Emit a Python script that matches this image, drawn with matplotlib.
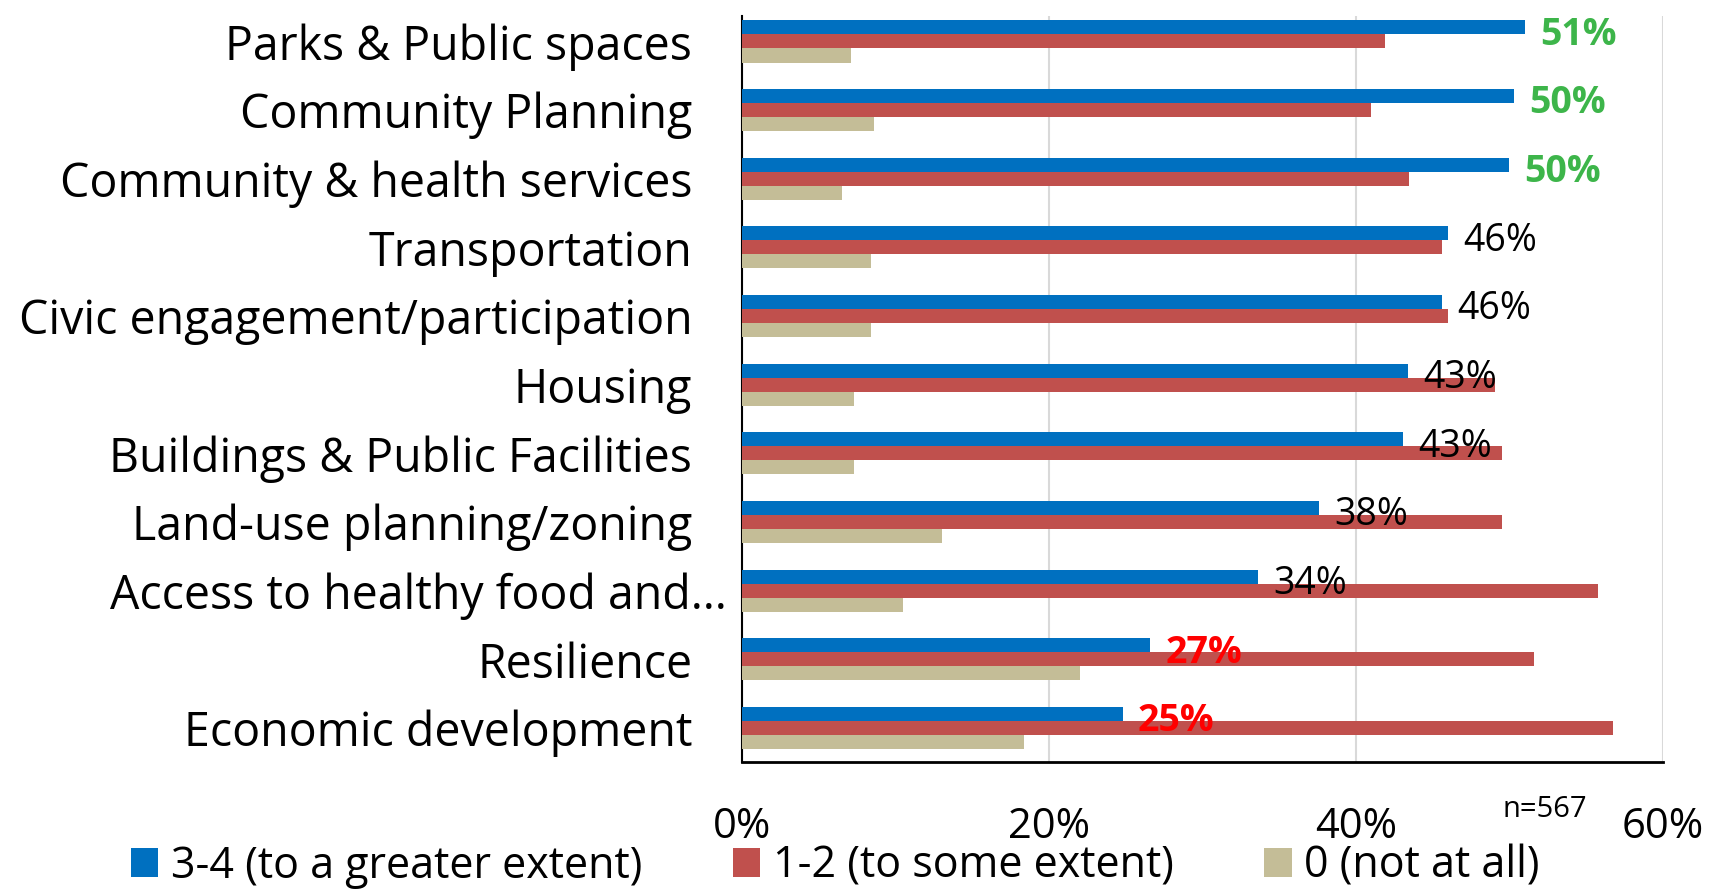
import matplotlib
matplotlib.use("Agg")
import matplotlib.pyplot as plt

# categories, top to bottom
categories = ["Parks & Public spaces", "Community Planning", "Community & health services",
              "Transportation", "Civic engagement/participation", "Housing",
              "Buildings & Public Facilities", "Land-use planning/zoning",
              "Access to healthy food and\u2026", "Resilience", "Economic development"]
greater = [51.0, 50.3, 50.0, 46.0, 45.6, 43.4, 43.1, 37.6, 33.6, 26.6, 24.8]
some = [41.9, 41.0, 43.5, 45.6, 46.0, 49.1, 49.5, 49.5, 55.8, 51.6, 56.8]
none_ = [7.1, 8.6, 6.5, 8.4, 8.4, 7.3, 7.3, 13.0, 10.5, 22.0, 18.4]
series_names = ["3-4 (to a greater extent)", "1-2 (to some extent)", "0 (not at all)"]
xticks = [0, 20, 40, 60]

# label colouring: green for top three, red for lowest two
label_colors = ["#3DB54A"] * 3 + ["black"] * 6 + ["#FF0000"] * 2

plt.rcParams['font.family'] = ['Open Sans', 'DejaVu Sans']

fig = plt.figure(figsize=(17.14, 8.96), dpi=100)
ax = fig.add_axes([0.433, 0.1496, 0.537, 0.8326])

y = list(range(len(categories)))
h = 0.205
ax.barh([v - h for v in y], greater, height=h, color="#0070C0", label=series_names[0], zorder=3)
ax.barh(y, some, height=h, color="#C0504D", label=series_names[1], zorder=3)
ax.barh([v + h for v in y], none_, height=h, color="#C4BD97", label=series_names[2], zorder=3)

for i, v in enumerate(greater):
    c = label_colors[i]
    ax.annotate(f"{round(v)}%", xy=(v, i - h), xytext=(11, -2), textcoords="offset points",
                ha="left", va="center_baseline", fontsize=27, color=c,
                fontweight="bold" if c != "black" else "normal", zorder=4)

ax.set_xlim(0, 60)
ax.set_ylim(10.495, -0.371)
ax.set_xticks(xticks)
ax.set_xticklabels([f"{t}%" for t in xticks], fontsize=30)
ax.set_yticks(y)
ax.set_yticklabels(categories, fontsize=33.5)
ax.tick_params(axis="x", length=0, pad=32)
ax.tick_params(axis="y", length=0, pad=36)
ax.yaxis.get_major_ticks()[8].set_pad(11)

ax.grid(axis="x", color="#D9D9D9", linewidth=1.5, zorder=0)
ax.spines["top"].set_visible(False)
ax.spines["right"].set_visible(False)
ax.spines["left"].set_linewidth(1.5)
ax.spines["bottom"].set_linewidth(2)

fig.text(0.901, 0.096, "n=567", fontsize=21, ha="center", va="center")

fig.legend(loc="center", bbox_to_anchor=(0.4875, 0.033), ncol=3, frameon=False, fontsize=31,
           handlelength=0.63, handleheight=0.63, handletextpad=0.3, columnspacing=2.1,
           borderpad=0.1)

fig.savefig("out.png", dpi=100)
